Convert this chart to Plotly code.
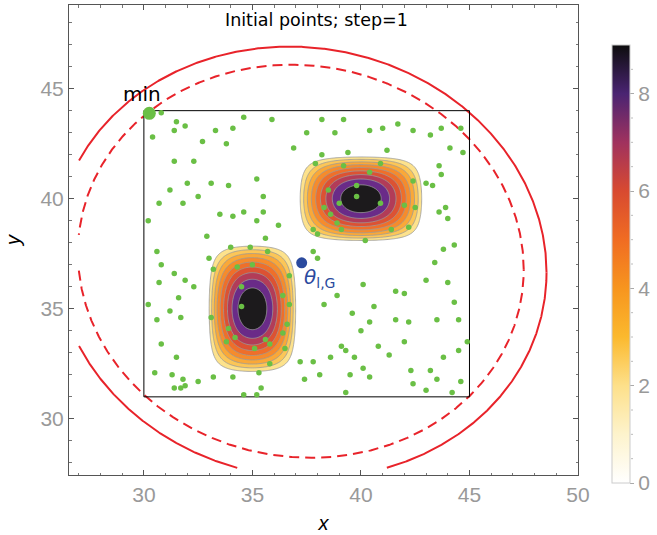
import numpy as np
import plotly.graph_objects as go

# ---------------- data ----------------
# two bumps of the objective function (centre, half-widths); value 10*(1-g)
peak_cx = [35.0, 40.0]
peak_cy = [35.0, 40.0]
peak_ax = [2.1, 2.95]
peak_ay = [3.0, 2.0]
peak_amp = 10.0
peak_square = 0.88
contour_levels = [1, 2, 3, 4, 5, 6, 7, 8, 9]
band_colors = ["#ffffff", "#fde28c", "#fcc657", "#faa838", "#f68b2c",
               "#ef6f2a", "#dc5233", "#b23c58", "#6a2b88", "#1c1a1c"]
bar_colors = ["#ffffff", "#fdf3cc", "#fde08a", "#fbb92e", "#f7951e",
              "#f06c22", "#d84a30", "#a0325e", "#4a2472", "#0d0d0d"]

# initial points
pts_x = [30.8, 31.5, 31.9, 31.4, 30.4, 33.3, 34.1, 34.6, 35.9, 33.8, 32.3, 31.4,
         32.0, 31.2, 30.7, 31.8, 32.5, 33.1, 33.9, 34.6, 34.1, 33.5, 35.2, 35.5,
         35.5, 35.2, 35.6, 34.9, 34.0, 32.9, 30.2, 30.6, 30.8, 31.4, 31.9, 32.3,
         31.6, 31.2, 31.7, 30.6, 30.7,
         37.5, 38.2, 39.2, 38.8, 40.4, 41.0, 41.7, 42.4, 43.2, 43.7, 44.6, 44.7,
         44.1, 43.6, 43.7, 43.3, 43.9, 43.6, 44.0, 44.3, 43.8, 43.4, 43.0, 44.0,
         44.3, 43.5, 44.5, 44.9, 44.5, 43.8, 43.2, 43.5, 44.6, 44.2,
         37.8, 38.0, 38.3, 38.9, 40.1, 40.6, 40.4, 39.6, 40.0, 39.1, 39.3, 39.7,
         40.1, 40.4, 39.5, 39.3, 41.3, 40.8, 41.6, 42.0, 42.2, 41.6, 42.0, 42.3,
         42.4, 43.0, 38.1, 38.6, 37.8, 37.4, 36.6, 36.7,
         30.2, 30.8, 31.5, 31.8, 31.4, 31.7, 30.5, 31.3, 31.9, 32.5, 33.2, 34.1,
         34.6, 35.2, 35.4, 37.2, 36.5,
         34.3, 35.0, 34.5, 34.5, 33.9, 34.2, 35.6, 35.1, 35.8, 36.4, 36.4, 36.7,
         35.7, 33.1, 33.2, 33.8, 35.3, 35.8,
         37.9, 39.2, 40.4, 40.9, 42.4, 43.0, 42.0, 42.5, 42.2, 41.4, 39.1, 38.0,
         37.8, 39.0, 39.8, 40.9, 39.8, 38.5, 38.6, 38.3, 40.2, 38.2, 39.4, 41.2,
         36.9, 32.7, 33.0, 36.2, 38.9]
pts_y = [43.9, 43.5, 43.3, 43.1, 42.8, 43.1, 43.2, 43.7, 43.6, 42.5, 41.7, 41.7,
         40.7, 40.4, 39.8, 39.8, 40.1, 40.7, 40.6, 39.4, 39.2, 39.3, 40.9, 40.1,
         39.4, 39.0, 38.2, 37.8, 37.8, 38.3, 39.0, 37.6, 37.0, 36.6, 36.3, 36.0,
         35.5, 34.9, 34.6, 34.5, 36.2,
         43.0, 43.6, 43.6, 43.0, 43.1, 43.2, 43.4, 43.1, 42.9, 43.2, 43.2, 42.1,
         42.3, 41.5, 41.1, 40.6, 39.6, 39.4, 39.1, 37.9, 37.7, 37.1, 36.3, 36.2,
         35.3, 34.5, 34.5, 33.5, 33.1, 32.8, 32.2, 31.8, 31.7, 31.2,
         37.6, 37.3, 35.2, 35.6, 36.1, 35.1, 34.4, 34.8, 34.0, 33.3, 33.1, 32.8,
         32.3, 31.9, 32.0, 31.2, 32.9, 33.3, 35.8, 35.7, 34.4, 34.5, 33.5, 32.2,
         31.6, 31.3, 32.0, 32.8, 32.6, 31.8, 34.3, 35.2,
         35.2, 33.4, 32.8, 31.8, 31.4, 31.4, 32.1, 32.0, 31.5, 31.7, 31.9, 31.9,
         31.1, 31.1, 31.4, 32.6, 33.2,
         36.9, 37.0, 36.0, 35.1, 34.1, 33.7, 33.6, 33.2, 33.4, 33.9, 35.6, 36.5,
         37.6, 34.6, 36.8, 33.5, 32.1, 32.5,
         41.6, 41.5, 41.2, 41.6, 40.8, 40.7, 39.7, 39.6, 38.7, 38.6, 38.6, 38.4,
         38.6, 39.8, 40.1, 39.8, 40.6, 40.4, 39.3, 39.6, 38.1, 42.0, 42.1, 42.2,
         42.3, 42.6, 37.3, 38.8, 38.9]

min_pt = (30.25, 43.88)
theta_pt = (37.27, 37.09)

# red ellipses: centre x, centre y, x half-extent, vertical half-chord at centre, shear
solid_ell = [37.23, 37.11, 11.32, 9.79, -0.0406]
dashed_ell = [37.23, 37.16, 10.27, 8.92, -0.0378]
curve_clip = [27.0, 27.77]  # x >= , y >=

box = [30, 45, 31, 44]
x_range = [26.55, 50.0]
y_range = [27.45, 48.8]
x_ticks = [30, 35, 40, 45, 50]
y_ticks = [30, 35, 40, 45]
cbar_labels = [0, 2, 4, 6, 8]
cbar_max = 9

# ---------------- figure ----------------
W, H = 657, 535
ML, MR, MT, MB = 69, 70, 5, 60
pw, ph = W - ML - MR, H - MT - MB

gx = np.linspace(29.0, 46.0, 341)
gy = np.linspace(29.0, 46.0, 341)
GX, GY = np.meshgrid(gx, gy)

Z = np.full_like(GX, -1.0)
for cx, cy, ax, ay in zip(peak_cx, peak_cy, peak_ax, peak_ay):
    u = (GX - cx) / ax
    v = (GY - cy) / ay
    g = u ** 2 + v ** 2 - peak_square * u ** 2 * v ** 2
    f = peak_amp * (1 - g)
    f = np.where(np.maximum(np.abs(u), np.abs(v)) > 1.05, -1.0, f)
    Z = np.maximum(Z, f)

nb = len(band_colors) - 1
cont_scale = [[i / nb, c] for i, c in enumerate(band_colors)]
bar_scale = [[i / (len(bar_colors) - 1), c] for i, c in enumerate(bar_colors)]

fig = go.Figure()
fig.add_trace(go.Contour(
    x=gx, y=gy, z=Z, colorscale=cont_scale, showscale=False,
    autocontour=False,
    contours=dict(start=contour_levels[0], end=contour_levels[-1], size=1,
                  coloring="fill"),
    line=dict(color="#9a9a9a", width=0.8, smoothing=1.0),
    hoverinfo="skip"))


def ellipse(p):
    t = np.linspace(0, 2 * np.pi, 1441)
    ex = p[0] + p[2] * np.cos(t)
    ey = p[1] + p[4] * (ex - p[0]) + p[3] * np.sin(t)
    ok = (ex >= curve_clip[0]) & (ey >= curve_clip[1])
    ex = np.where(ok, ex, np.nan)
    ey = np.where(ok, ey, np.nan)
    return ex, ey


sx, sy = ellipse(solid_ell)
dx, dy = ellipse(dashed_ell)
red = "#e8232a"
fig.add_trace(go.Scatter(x=sx, y=sy, mode="lines", line=dict(color=red, width=2),
                         connectgaps=False, hoverinfo="skip"))
fig.add_trace(go.Scatter(x=dx, y=dy, mode="lines",
                         line=dict(color=red, width=2, dash="10px,6px"),
                         connectgaps=False, hoverinfo="skip"))

# box
fig.add_trace(go.Scatter(x=[box[0], box[1], box[1], box[0], box[0]],
                         y=[box[2], box[2], box[3], box[3], box[2]],
                         mode="lines", line=dict(color="black", width=1),
                         hoverinfo="skip"))

green = "#6abf45"
fig.add_trace(go.Scatter(x=pts_x, y=pts_y, mode="markers",
                         marker=dict(color=green, size=5.5), hoverinfo="skip"))
fig.add_trace(go.Scatter(x=[min_pt[0]], y=[min_pt[1]], mode="markers",
                         marker=dict(color=green, size=13), hoverinfo="skip"))
fig.add_trace(go.Scatter(x=[theta_pt[0]], y=[theta_pt[1]], mode="markers",
                         marker=dict(color="#2b4a9e", size=11), hoverinfo="skip"))

# colorbar carrier
cb_left, cb_right, cb_top, cb_bot = 622, 640, 45, 483
cb_x = (cb_left - ML) / pw
cb_bottom = (H - MB - cb_bot) / ph
fig.add_trace(go.Scatter(
    x=[40, 40], y=[40, 40], mode="markers", hoverinfo="skip",
    marker=dict(size=1, opacity=0, color=[0, cbar_max], cmin=0, cmax=cbar_max,
                colorscale=bar_scale, showscale=True,
                colorbar=dict(x=cb_x, xanchor="left", y=cb_bottom, yanchor="bottom",
                              len=cb_bot - cb_top, lenmode="pixels", thickness=18,
                              thicknessmode="pixels", xpad=0, ypad=0,
                              outlinecolor="#cccccc", outlinewidth=1,
                              tickvals=cbar_labels,
                              ticks="outside", ticklen=4, tickcolor="#aaaaaa",
                              tickfont=dict(size=21, color="#999999",
                                            family="Liberation Sans")))))


def cb_paper_y(val):
    py = cb_bot - val * (cb_bot - cb_top) / cbar_max
    return (H - MB - py) / ph


shapes = []
# colorbar level lines
for lv in contour_levels[:-1]:
    yp = cb_paper_y(lv)
    shapes.append(dict(type="line", xref="paper", yref="paper",
                       x0=cb_x, x1=(cb_right - ML) / pw, y0=yp, y1=yp,
                       line=dict(color="#999999", width=1)))
# colorbar minor ticks
for k in range(1, 2 * cbar_max):
    val = k / 2
    if val in cbar_labels:
        continue
    yp = cb_paper_y(val)
    shapes.append(dict(type="line", xref="paper", yref="paper",
                       x0=(cb_right + 1 - ML) / pw, x1=(cb_right + 3 - ML) / pw,
                       y0=yp, y1=yp, line=dict(color="#bbbbbb", width=1)))

axis_common = dict(showgrid=False, zeroline=False, showline=True, mirror="ticks",
                   linecolor="#555555", linewidth=1, ticks="inside", ticklen=5,
                   tickcolor="#555555",
                   tickfont=dict(size=21, color="#999999", family="Liberation Sans"),
                   minor=dict(dtick=1, ticks="inside", ticklen=2.5, tickcolor="#777777"))

fig.update_layout(
    width=W, height=H, margin=dict(l=ML, r=MR, t=MT, b=MB),
    paper_bgcolor="white", plot_bgcolor="white", showlegend=False,
    font=dict(family="Liberation Sans, Arial, sans-serif"),
    xaxis=dict(range=x_range, tickvals=x_ticks, ticklabelstandoff=1,
               title=dict(text="<i>x</i>", font=dict(size=20, color="black"), standoff=10),
               **axis_common),
    yaxis=dict(range=y_range, tickvals=y_ticks,
               title=dict(text="<i>y</i>", font=dict(size=20, color="black"), standoff=14),
               **axis_common),
    shapes=shapes,
    annotations=[
        dict(text="Initial points; step=1", xref="paper", yref="paper",
             x=(321 - ML) / pw, y=(H - MB - 20) / ph, xanchor="center",
             yanchor="middle", showarrow=False,
             font=dict(size=17.5, color="black", family="DejaVu Sans")),
        dict(text="min", x=29.92, y=44.75, xanchor="center", yanchor="middle",
             showarrow=False, font=dict(size=20, color="black", family="DejaVu Sans")),
        dict(text="<i>θ</i><sub>l,G</sub>", x=38.1, y=36.42, xanchor="center",
             yanchor="middle", showarrow=False,
             font=dict(size=20, color="#2b4a9e", family="DejaVu Sans")),
    ],
)

fig.write_html("out.html")
